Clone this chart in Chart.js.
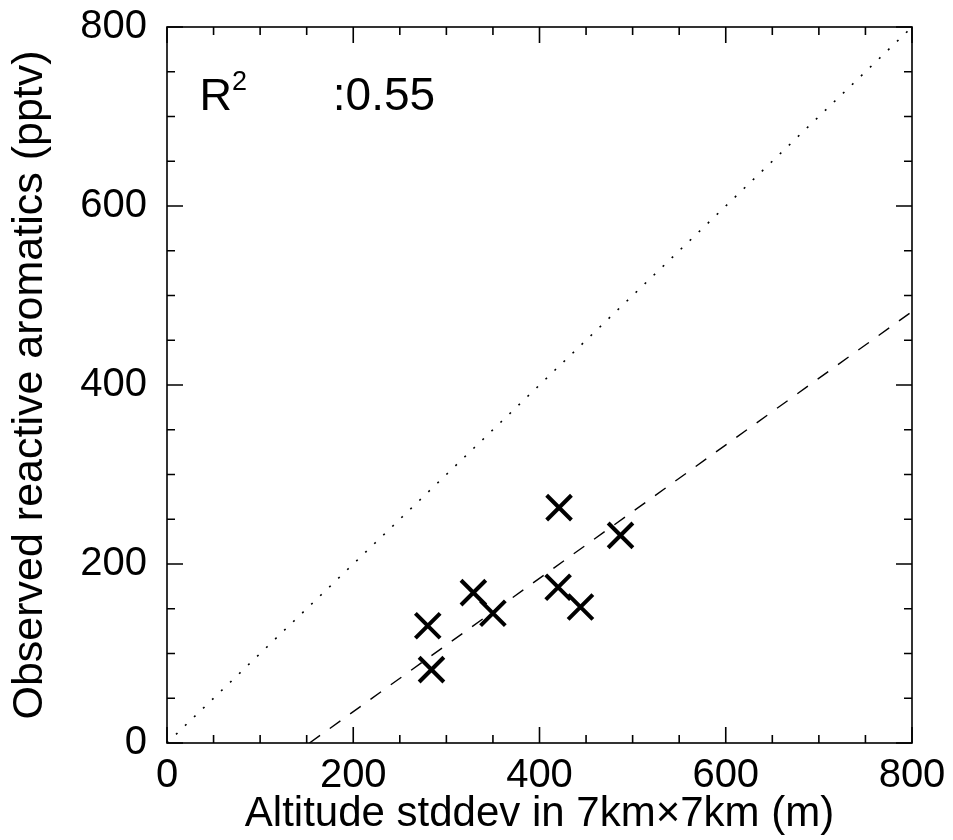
<!DOCTYPE html>
<html>
<head>
<meta charset="utf-8">
<script src="https://cdn.jsdelivr.net/npm/chart.js@4.4.1/dist/chart.umd.min.js"></script>
<style>
  body { margin: 0; background: #fff; }
  #wrap { width: 953px; height: 840px; }
</style>
</head>
<body>
<div id="wrap"><canvas id="myChart"></canvas></div>
<script>
// observed points
var altStd = [280, 284, 329, 350, 421, 420, 444, 487];
var aromatics = [131, 82, 168, 145, 263, 174, 152, 232];

// regression line (dashed) and 1:1 line (dotted), endpoints
var fitX = [153, 800];
var fitY = [0, 482];
var oneX = [0, 800];
var oneY = [0, 800];

var axisMin = 0, axisMax = 800;
var minorStep = 50, majorStep = 200;

var r2Label = ':0.55';

function toXY(xs, ys) {
    return xs.map(function(x, i) { return { x: x, y: ys[i] }; });
}

var FONT = '"Liberation Sans", Arial, Helvetica, sans-serif';

// inward ticks on all four sides + frame + R^2 text
var framePlugin = {
    id: 'frame',
    afterDraw: function(chart) {
        var ctx = chart.ctx;
        var a = chart.chartArea;
        var xs = chart.scales.x, ys = chart.scales.y;
        ctx.save();
        ctx.strokeStyle = '#000';
        ctx.lineWidth = 1.6;
        ctx.strokeRect(a.left, a.top, a.right - a.left, a.bottom - a.top);

        xs.ticks.forEach(function(t) {
            var px = xs.getPixelForValue(t.value);
            var len = (t.value % majorStep === 0) ? 16 : 8;
            ctx.beginPath();
            ctx.moveTo(px, a.bottom); ctx.lineTo(px, a.bottom - len);
            ctx.moveTo(px, a.top); ctx.lineTo(px, a.top + len);
            ctx.stroke();
        });
        ys.ticks.forEach(function(t) {
            var py = ys.getPixelForValue(t.value);
            var len = (t.value % majorStep === 0) ? 16 : 8;
            ctx.beginPath();
            ctx.moveTo(a.left, py); ctx.lineTo(a.left + len, py);
            ctx.moveTo(a.right, py); ctx.lineTo(a.right - len, py);
            ctx.stroke();
        });

        // R^2 annotation
        var tx = xs.getPixelForValue(35);
        var ty = ys.getPixelForValue(707);
        ctx.fillStyle = '#000';
        ctx.textBaseline = 'alphabetic';
        ctx.font = '45px ' + FONT;
        ctx.fillText('R', tx, ty);
        var rw = ctx.measureText('R').width;
        ctx.font = '27px ' + FONT;
        ctx.fillText('2', tx + rw, ty - 20);
        ctx.font = '46px ' + FONT;
        ctx.fillText(r2Label, xs.getPixelForValue(178), ty);
        ctx.restore();
    }
};

var ctx = document.getElementById('myChart').getContext('2d');
var myChart = new Chart(ctx, {
    type: 'scatter',
    data: {
        datasets: [{
            label: 'obs',
            data: toXY(altStd, aromatics),
            pointStyle: 'crossRot',
            pointRadius: 17.5,
            pointHoverRadius: 17.5,
            borderColor: '#000',
            borderWidth: 4,
            showLine: false
        }, {
            label: 'fit',
            data: toXY(fitX, fitY),
            showLine: true,
            borderColor: '#000',
            borderWidth: 1.4,
            borderDash: [13, 12],
            pointRadius: 0
        }, {
            label: '1:1',
            data: toXY(oneX, oneY),
            showLine: true,
            borderColor: '#000',
            borderWidth: 1.6,
            borderDash: [2, 10.5],
            pointRadius: 0
        }]
    },
    options: {
        responsive: true,
        maintainAspectRatio: false,
        devicePixelRatio: 1,
        animation: false,
        layout: { padding: { left: 0, top: 27, right: 41, bottom: 0 } },
        plugins: {
            legend: { display: false },
            tooltip: { enabled: false }
        },
        scales: {
            x: {
                type: 'linear',
                min: axisMin,
                max: axisMax,
                grid: { display: false, drawTicks: false },
                border: { display: false },
                ticks: {
                    stepSize: minorStep,
                    autoSkip: false,
                    maxRotation: 0,
                    padding: 9,
                    color: '#000',
                    font: { family: FONT, size: 40 },
                    callback: function(v) { return v % majorStep === 0 ? String(v) : ''; }
                },
                title: {
                    display: true,
                    text: 'Altitude stddev in 7km\u00d77km (m)',
                    color: '#000',
                    font: { family: FONT, size: 42 },
                    padding: { top: 0, bottom: 0 }
                },
                afterFit: function(s) {
                    s.height = 97;
                    s.paddingLeft = 0;
                    s.paddingRight = 0;
                }
            },
            y: {
                type: 'linear',
                min: axisMin,
                max: axisMax,
                grid: { display: false, drawTicks: false },
                border: { display: false },
                ticks: {
                    stepSize: minorStep,
                    autoSkip: false,
                    padding: 20,
                    color: '#000',
                    font: { family: FONT, size: 40 },
                    callback: function(v) { return v % majorStep === 0 ? String(v) : ''; }
                },
                title: {
                    display: true,
                    text: 'Observed reactive aromatics (pptv)',
                    color: '#000',
                    font: { family: FONT, size: 43 },
                    padding: { top: 4, bottom: 0 }
                },
                afterFit: function(s) {
                    s.width = 167;
                    s.paddingTop = 0;
                    s.paddingBottom = 0;
                }
            }
        }
    },
    plugins: [framePlugin]
});
</script>
</body>
</html>
